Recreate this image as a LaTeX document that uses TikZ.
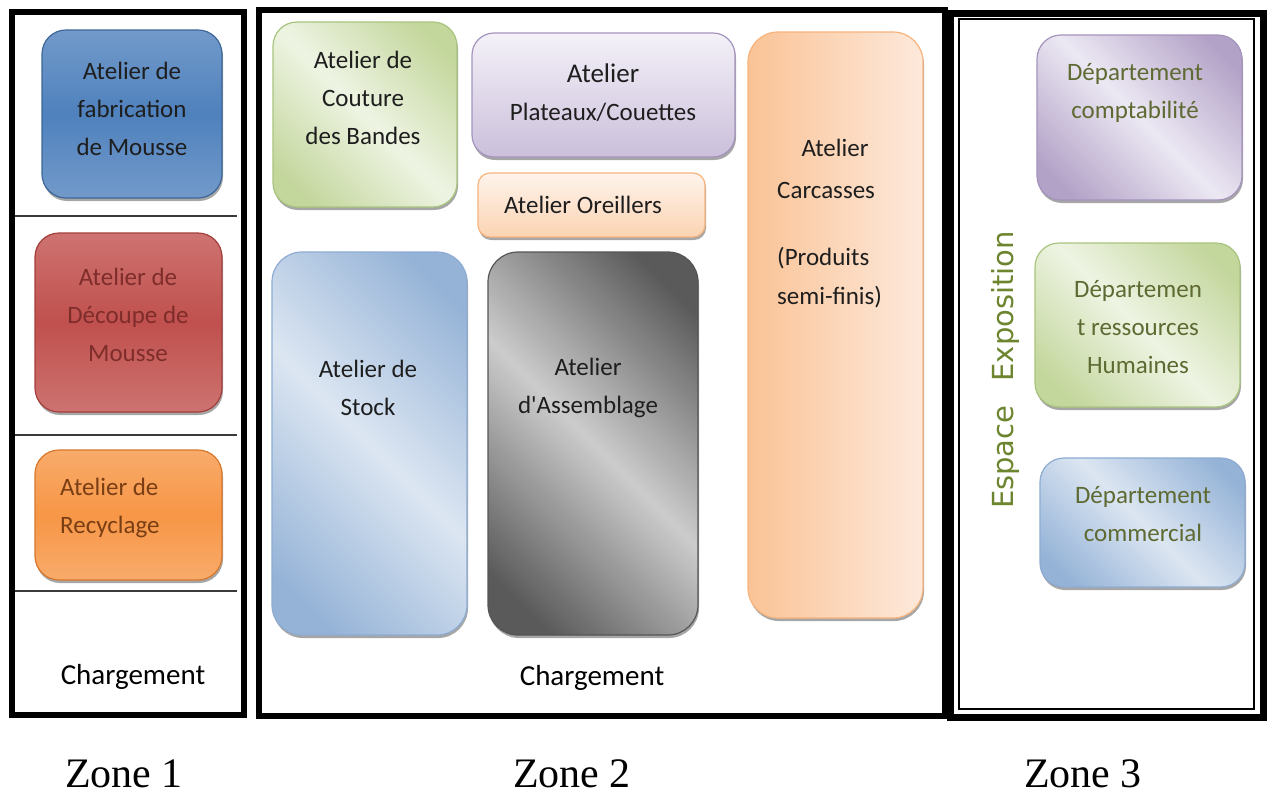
\documentclass[tikz,border=0pt]{standalone}
\usepackage{fontspec}
\setmainfont{Carlito}
\newfontfamily\apfont{Carlito}[Ligatures=TeXOff]
\newfontfamily\zonefont{Liberation Serif}
\newfontfamily\espfont{DejaVu Sans}
\usetikzlibrary{shadows}
% colours
\definecolor{bL}{HTML}{95B3D7}\definecolor{bM}{HTML}{4F81BD}\definecolor{bB}{HTML}{3C6798}
\definecolor{rL}{HTML}{DA9694}\definecolor{rM}{HTML}{C0504D}\definecolor{rB}{HTML}{A33F3C}
\definecolor{oL}{HTML}{FAC090}\definecolor{oM}{HTML}{F79646}\definecolor{oB}{HTML}{D8772C}
\definecolor{gD}{HTML}{C3D69B}\definecolor{gL}{HTML}{EEF4E3}\definecolor{gB}{HTML}{A9C47F}
\definecolor{pD}{HTML}{B3A2C7}\definecolor{pL}{HTML}{ECE8F3}\definecolor{pB}{HTML}{A594BD}
\definecolor{sD}{HTML}{95B3D7}\definecolor{sL}{HTML}{DCE6F2}\definecolor{sB}{HTML}{8EACD3}
\definecolor{aD}{HTML}{5A5A5A}\definecolor{aL}{HTML}{CCCCCC}\definecolor{aB}{HTML}{555555}
\definecolor{ptop}{HTML}{F4F1F8}\definecolor{pbot}{HTML}{CBBFDB}
\definecolor{otop}{HTML}{FEF4EC}\definecolor{obot}{HTML}{FBD3B2}\definecolor{oLB}{HTML}{F7B37C}
\definecolor{kL}{HTML}{FAC396}\definecolor{kR}{HTML}{FDE9DB}
\definecolor{txt}{HTML}{1E1E1E}\definecolor{rtxt}{HTML}{7E2D2B}\definecolor{otxt}{HTML}{7A3E14}
\definecolor{dtxt}{HTML}{5E6A32}\definecolor{esp}{HTML}{6E8530}
\definecolor{divl}{HTML}{3A3A3A}
% shadings
\pgfdeclareverticalshading{vblue}{100bp}{color(0bp)=(bL);color(50bp)=(bM);color(100bp)=(bL)}
\pgfdeclareverticalshading{vred}{100bp}{color(0bp)=(rL);color(50bp)=(rM);color(100bp)=(rL)}
\pgfdeclareverticalshading{vorange}{100bp}{color(0bp)=(oL);color(50bp)=(oM);color(100bp)=(oL)}
\pgfdeclarehorizontalshading{dgreen}{100bp}{color(0bp)=(gD);color(22bp)=(gD);color(50bp)=(gL);color(78bp)=(gD);color(100bp)=(gD)}
\pgfdeclarehorizontalshading{dpurple}{100bp}{color(0bp)=(pD);color(22bp)=(pD);color(50bp)=(pL);color(78bp)=(pD);color(100bp)=(pD)}
\pgfdeclarehorizontalshading{dblue}{100bp}{color(0bp)=(sD);color(22bp)=(sD);color(50bp)=(sL);color(78bp)=(sD);color(100bp)=(sD)}
\pgfdeclarehorizontalshading{dgrey}{100bp}{color(0bp)=(aD);color(22bp)=(aD);color(50bp)=(aL);color(78bp)=(aD);color(100bp)=(aD)}
\tikzset{
  room/.style={rounded corners=#1, inner sep=0pt, line width=1.2pt,
    drop shadow={shadow xshift=1pt, shadow yshift=-3pt, opacity=.35, fill=black}},
  room/.default=24pt,
  lbl/.style={font=\fontsize{25}{38}\selectfont, align=center, text=txt, inner sep=0pt},
  charg/.style={font=\fontsize{29}{35}\selectfont, text=black, inner sep=0pt},
  zone/.style={font=\zonefont\fontsize{42}{48}\selectfont, text=black, inner sep=0pt},
  frame/.style={draw=black, line width=6pt},
  divider/.style={draw=divl, line width=2.5pt},
}
\begin{document}
\begin{tikzpicture}[x=1pt,y=-1pt]
\useasboundingbox[fill=white] (0,0) rectangle (1268,796);

% ---------- Zone 1 ----------
\draw[frame] (11.5,11.5) rectangle (243.5,715);
\draw[divider] (15,216) -- (237,216);
\draw[divider] (15,435) -- (237,435);
\draw[divider] (15,591) -- (237,591);

\node[room, draw=bB, shade, shading=vblue, minimum width=180pt, minimum height=168pt] (b1) at (132,114) {};
\node[lbl] (t1) at (132,109) {Atelier de\\fabrication\\de Mousse};

\node[room, draw=rB, shade, shading=vred, minimum width=187pt, minimum height=179pt] (b2) at (128.5,322.5) {};
\node[lbl, text=rtxt] (t2) at (128,315) {Atelier de\\Découpe de\\Mousse};

\node[room, draw=oB, shade, shading=vorange, minimum width=187pt, minimum height=130pt] (b3) at (128.5,515) {};
\node[lbl, text=otxt, align=left, anchor=west] (t3) at (60,507.5) {Atelier de\\Recyclage};

\node[charg] (c1) at (133,677) {Chargement};

% ---------- Zone 2 ----------
\draw[frame] (259,10) rectangle (945,716);

\node[room, draw=gB, shade, shading=dgreen, shading angle=45, minimum width=184pt, minimum height=185pt] (g) at (365,114.5) {};
\node[lbl] (tg) at (363,98) {Atelier de\\Couture\\des Bandes};

\node[room=22pt, draw=pB, top color=ptop, bottom color=pbot, minimum width=263pt, minimum height=124pt] (p) at (603.5,95) {};
\node[lbl] (tp) at (603,92.5) {{\fontsize{27}{38}\selectfont Atelier}\\Plateaux/Couettes};

\node[room=12pt, draw=oLB, top color=otop, bottom color=obot, minimum width=227pt, minimum height=64pt] (o) at (591.5,205) {};
\node[lbl] (to) at (583,205) {Atelier Oreillers};

\node[room=30pt, draw=oLB, left color=kL, right color=kR, minimum width=175pt, minimum height=586pt] (k) at (835.5,325) {};
\node[lbl] (tk1) at (835,148) {Atelier};
\node[lbl, anchor=west] (tk2) at (777,190) {Carcasses};
\node[lbl, anchor=west, align=left, font=\fontsize{25}{39}\selectfont] (tk3) at (777,277.5) {(Produits\\semi-finis)};

\node[room=30pt, draw=sB, shade, shading=dblue, shading angle=45, minimum width=195pt, minimum height=383pt] (s) at (369.5,443.5) {};
\node[lbl] (ts) at (368,387.5) {Atelier de\\Stock};

\node[room=30pt, draw=aB, shade, shading=dgrey, shading angle=45, minimum width=210pt, minimum height=383pt] (a) at (593,443.5) {};
\node[lbl, font=\apfont\fontsize{25}{38}\selectfont] (ta) at (588,387.5) {Atelier\\d'Assemblage};

\node[charg] (c2) at (592,678) {Chargement};

% ---------- Zone 3 ----------
\draw[draw=black, line width=7pt] (950,13) rectangle (1263,717);
\draw[draw=black, line width=2pt] (959,19) rectangle (1254,709);

\node[room, draw=pB, shade, shading=dpurple, shading angle=45, minimum width=205pt, minimum height=165pt] (d1) at (1139.5,117.5) {};
\node[lbl, text=dtxt] (td1) at (1135,92.5) {Département\\comptabilité};

\node[room, draw=gB, shade, shading=dgreen, shading angle=45, minimum width=205pt, minimum height=164pt] (d2) at (1137.5,325) {};
\node[lbl, text=dtxt] (td2) at (1138,327) {Départemen\\t ressources\\Humaines};

\node[room, draw=sB, shade, shading=dblue, shading angle=45, minimum width=205pt, minimum height=129pt] (d3) at (1142.5,522.5) {};
\node[lbl, text=dtxt] (td3) at (1143,514) {Département\\commercial};

\node[rotate=90, text=esp, font=\espfont\fontsize{29}{34}\selectfont, inner sep=0pt] (esp) at (1005,370) {Espace\hspace{24pt}Exposition};

% ---------- Zone labels ----------
\node[zone] (z1) at (124,774) {Zone 1};
\node[zone] (z2) at (572,774) {Zone 2};
\node[zone] (z3) at (1083,774) {Zone 3};
\end{tikzpicture}
\end{document}
